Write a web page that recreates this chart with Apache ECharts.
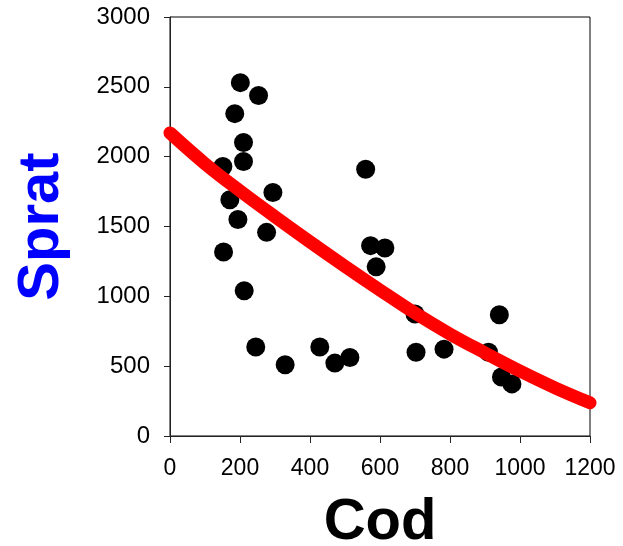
<!DOCTYPE html>
<html>
<head>
<meta charset="utf-8">
<style>
  html, body { margin: 0; padding: 0; background: #fff; }
  #chart { width: 623px; height: 546px; }
</style>
<script src="https://cdn.jsdelivr.net/npm/echarts@6/dist/echarts.min.js"></script>
</head>
<body>
<div id="chart"></div>
<script>
// observed points (cod biomass, sprat biomass)
const codValues = [201, 253, 185, 210, 210, 151, 294, 171, 194, 276, 153, 212,
  559, 573, 614, 589, 245, 329, 428, 471, 514, 700, 703, 783, 910, 941, 947, 977];
const spratValues = [2530, 2438, 2308, 2102, 1965, 1930, 1744, 1692, 1550, 1458, 1318, 1040,
  1910, 1363, 1346, 1211, 637, 510, 637, 522, 562, 873, 600, 622, 600, 868, 423, 373];

// fitted curve
const fitCod = [0, 100, 200, 300, 400, 500, 600, 700, 800, 900, 1000, 1100, 1200];
const fitSprat = [2170, 1950, 1755, 1570, 1390, 1215, 1045, 880, 730, 595, 465, 345, 238];

const xTicks = [0, 200, 400, 600, 800, 1000, 1200];
const yTicks = [0, 500, 1000, 1500, 2000, 2500, 3000];

const font = '"Liberation Sans", Arial, sans-serif';

const chart = echarts.init(document.getElementById('chart'));

const option = {
  animation: false,
  grid: {
    left: 170,
    right: 33,
    top: 17,
    bottom: 110,
    outerBoundsMode: 'none',
    show: true,
    borderColor: '#000',
    borderWidth: 1,
  },
  xAxis: {
    type: 'value',
    min: xTicks[0],
    max: xTicks[xTicks.length - 1],
    interval: 200,
    name: 'Cod',
    nameLocation: 'middle',
    nameGap: 58,
    nameTextStyle: {
      fontFamily: font,
      fontSize: 58,
      fontWeight: 'bold',
      color: '#000',
    },
    axisLine: { show: true, lineStyle: { color: '#222', width: 1 } },
    axisTick: { show: true, length: 7, lineStyle: { color: '#222' } },
    axisLabel: {
      margin: 21,
      fontFamily: font,
      fontSize: 23,
      color: '#000',
      formatter: v => String(v),
    },
    splitLine: { show: false },
  },
  yAxis: {
    type: 'value',
    min: yTicks[0],
    max: yTicks[yTicks.length - 1],
    interval: 500,
    name: 'Sprat',
    nameLocation: 'middle',
    nameGap: 99,
    nameRotate: 90,
    nameTextStyle: {
      fontFamily: font,
      fontSize: 58,
      fontWeight: 'bold',
      color: '#0000FF',
    },
    axisLine: { show: true, lineStyle: { color: '#222', width: 1 } },
    axisTick: { show: true, length: 6, lineStyle: { color: '#222' } },
    axisLabel: {
      margin: 20,
      fontFamily: font,
      fontSize: 24,
      color: '#000',
      formatter: v => String(v),
    },
    splitLine: { show: false },
  },
  series: [
    {
      type: 'scatter',
      data: codValues.map((c, i) => [c, spratValues[i]]),
      symbol: 'circle',
      symbolSize: 19,
      itemStyle: { color: '#000', opacity: 1 },
      z: 2,
    },
    {
      type: 'line',
      data: fitCod.map((c, i) => [c, fitSprat[i]]),
      smooth: 0.4,
      symbol: 'none',
      lineStyle: { color: '#FF0000', width: 13, cap: 'round', join: 'round' },
      z: 3,
    },
  ],
};

chart.setOption(option);
</script>
</body>
</html>
